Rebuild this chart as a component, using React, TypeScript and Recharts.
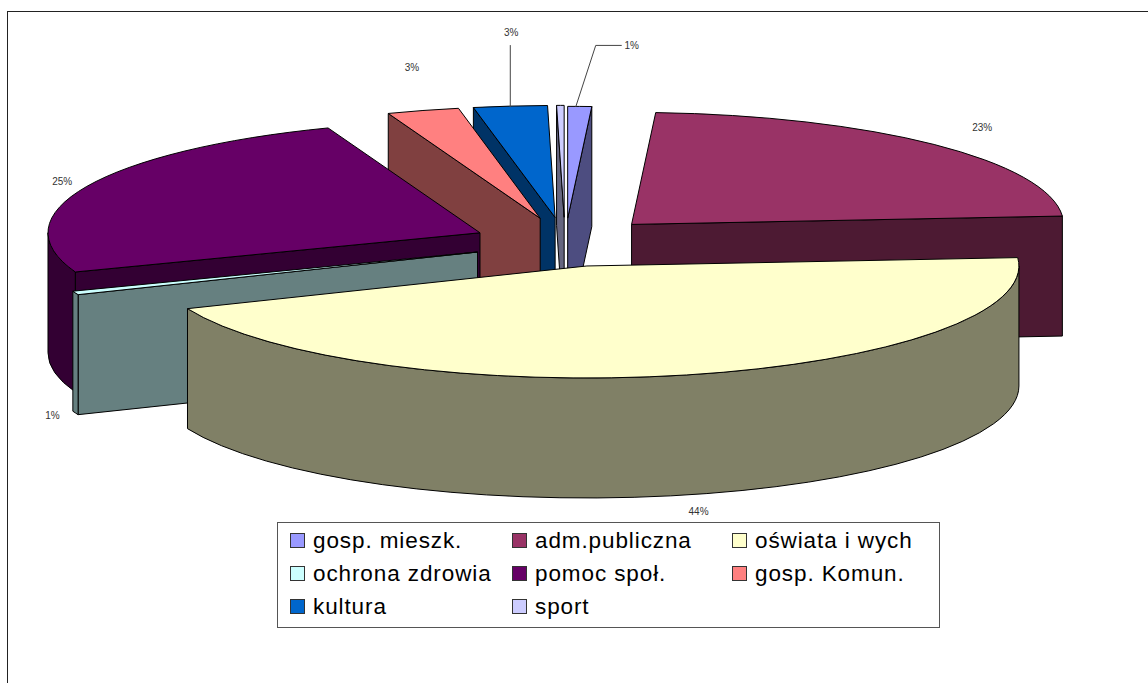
import { Legend, Pie, PieChart } from "recharts";

const CATEGORIES = [
  "gosp. mieszk.",
  "adm.publiczna",
  "oświata i wych",
  "ochrona zdrowia",
  "pomoc społ.",
  "gosp. Komun.",
  "kultura",
  "sport",
];
const VALUES = [0.89, 22.92, 44.97, 0.53, 24.97, 2.69, 2.75, 0.28];
// sport has no data label in the chart
const PERCENT_LABELS = ["1%", "23%", "44%", "1%", "25%", "3%", "3%", ""];
const TOP_COLORS = ["#9999FF", "#993366", "#FFFFCC", "#CCFFFF", "#660066", "#FF8080", "#0066CC", "#CCCCFF"];
const SIDE_COLORS = ["#4D4D80", "#4D1A33", "#808066", "#668080", "#330033", "#804040", "#003366", "#666680"];
// back slices are painted first, the big front slice last
const PAINT_ORDER = ["sport", "gosp. mieszk.", "kultura", "gosp. Komun.", "adm.publiczna", "pomoc społ.", "ochrona zdrowia", "oświata i wych"];

const data = CATEGORIES.map((name, i) => ({ name, value: VALUES[i] }));

// 3D look: the pie's circle is squashed into an ellipse and extruded downwards
const RX = 432;
const RY = 112;
const DEPTH = 120;
const EXPLODE = 0.22;

// small corrections to the common explosion, per slice
const NUDGE: Record<string, [number, number]> = {
  "gosp. mieszk.": [0, 1],
  "ochrona zdrowia": [1, 1],
  "pomoc społ.": [1.5, 1],
  "gosp. Komun.": [1, 0],
};

// label position, relative to the outer middle of its slice
const LABEL_OFFSETS: Record<string, [number, number]> = {
  "gosp. mieszk.": [52, -60],
  "adm.publiczna": [48, -16.5],
  "oświata i wych": [12, 137],
  "ochrona zdrowia": [-22, 124],
  "pomoc społ.": [-23, -4],
  "gosp. Komun.": [-10, -43],
  kultura: [1, -74],
};
const LEADERS: Record<string, [number, number][]> = {
  "gosp. mieszk.": [[-4, 1.5], [16, -60], [42, -60]],
  kultura: [[0, 1], [0, -61]],
};

const rad = (deg: number) => (deg * Math.PI) / 180;

function sliceOrigin(cx: number, cy: number, t: number) {
  return { x: cx + EXPLODE * RX * Math.sin(rad(t)), y: cy - EXPLODE * RY * Math.cos(rad(t)) };
}

function Slice3D(props: any, layer: string) {
  const { cx, cy, startAngle, endAngle, name } = props;
  if (name !== layer) return <g />;
  const i = CATEGORIES.indexOf(name);
  const t0 = 90 - startAngle;
  const t1 = 90 - endAngle;
  const base = sliceOrigin(cx, cy, (t0 + t1) / 2);
  const [nx, ny] = NUDGE[name] ?? [0, 0];
  const o = { x: base.x + nx, y: base.y + ny };
  const at = (t: number) => ({ x: o.x + RX * Math.sin(rad(t)), y: o.y - RY * Math.cos(rad(t)) });
  const a = at(t0);
  const b = at(t1);
  const top = TOP_COLORS[i];
  const side = SIDE_COLORS[i];
  const large = t1 - t0 > 180 ? 1 : 0;

  const face = (p: { x: number; y: number }) =>
    `M${o.x},${o.y} L${p.x},${p.y} L${p.x},${p.y + DEPTH} L${o.x},${o.y + DEPTH} Z`;

  // only the front half of the rim can be seen
  const w0 = Math.max(t0, 90);
  const w1 = Math.min(t1, 270);
  let rim = "";
  if (w1 > w0) {
    const p = at(w0);
    const q = at(w1);
    rim = `M${p.x},${p.y} A${RX},${RY} 0 0 1 ${q.x},${q.y} L${q.x},${q.y + DEPTH} A${RX},${RY} 0 0 0 ${p.x},${p.y + DEPTH} Z`;
  }

  return (
    <g stroke="#000" strokeWidth={1} strokeLinejoin="round">
      {a.x < o.x && <path d={face(a)} fill={side} />}
      {b.x > o.x && <path d={face(b)} fill={side} />}
      {rim && <path d={rim} fill={side} />}
      <path d={`M${o.x},${o.y} L${a.x},${a.y} A${RX},${RY} 0 ${large} 1 ${b.x},${b.y} Z`} fill={top} />
    </g>
  );
}

function SliceLabel(props: any) {
  const { cx, cy, name, midAngle } = props;
  const text = PERCENT_LABELS[CATEGORIES.indexOf(name)];
  if (!text) return <g />;
  const t = 90 - midAngle;
  const o = sliceOrigin(cx, cy, t);
  const px = o.x + RX * Math.sin(rad(t));
  const py = o.y - RY * Math.cos(rad(t));
  const [dx, dy] = LABEL_OFFSETS[name];
  const leader = LEADERS[name];
  return (
    <g>
      {leader && (
        <polyline
          points={leader.map(([x, y]) => `${px + x},${py + y}`).join(" ")}
          fill="none"
          stroke="#444"
          strokeWidth={1}
        />
      )}
      <text
        x={px + dx}
        y={py + dy}
        textAnchor="middle"
        dominantBaseline="central"
        fontFamily="Liberation Sans"
        fontSize={10}
        fill="#333"
      >
        {text}
      </text>
    </g>
  );
}

function LegendBox() {
  return (
    <div
      style={{
        boxSizing: "border-box",
        width: 663,
        height: 106,
        border: "1px solid #555",
        background: "#fff",
        padding: "1px 0 0 12px",
        display: "grid",
        gridTemplateColumns: "222px 220px 200px",
        gridAutoRows: 33,
        fontFamily: "Liberation Sans",
        fontSize: 22.5,
        letterSpacing: 0.9,
        color: "#000",
      }}
    >
      {CATEGORIES.map((name, i) => (
        <div key={name} style={{ display: "flex", alignItems: "center", whiteSpace: "nowrap" }}>
          <span
            style={{
              boxSizing: "border-box",
              width: 15,
              height: 15,
              marginRight: 8,
              background: TOP_COLORS[i],
              border: "1px solid #333",
            }}
          />
          {name}
        </div>
      ))}
    </div>
  );
}

export default function App() {
  return (
    <div style={{ position: "absolute", left: 0, top: 0, width: 1148, height: 683, background: "#fff", overflow: "hidden" }}>
      {/* frame of the chart area, it runs off the right and bottom of the picture */}
      <div style={{ position: "absolute", left: 7, top: 11, right: -10, bottom: -10, borderLeft: "1px solid #222", borderTop: "1px solid #222" }} />
      <PieChart width={1148} height={683} margin={{ top: 0, right: 0, bottom: 0, left: 0 }} style={{ position: "absolute", left: 0, top: 0 }}>
        {PAINT_ORDER.map((layer, n) => (
          <Pie
            key={layer}
            data={data}
            dataKey="value"
            nameKey="name"
            cx={565}
            cy={242}
            outerRadius={RX}
            startAngle={90}
            endAngle={-270}
            stroke="none"
            isAnimationActive={false}
            shape={(p: any) => Slice3D(p, layer)}
            label={n === PAINT_ORDER.length - 1 ? SliceLabel : false}
            labelLine={false}
          />
        ))}
        <Legend
          content={LegendBox}
          wrapperStyle={{ position: "absolute", left: 277, top: 522, width: 663, height: 106 }}
        />
      </PieChart>
    </div>
  );
}
